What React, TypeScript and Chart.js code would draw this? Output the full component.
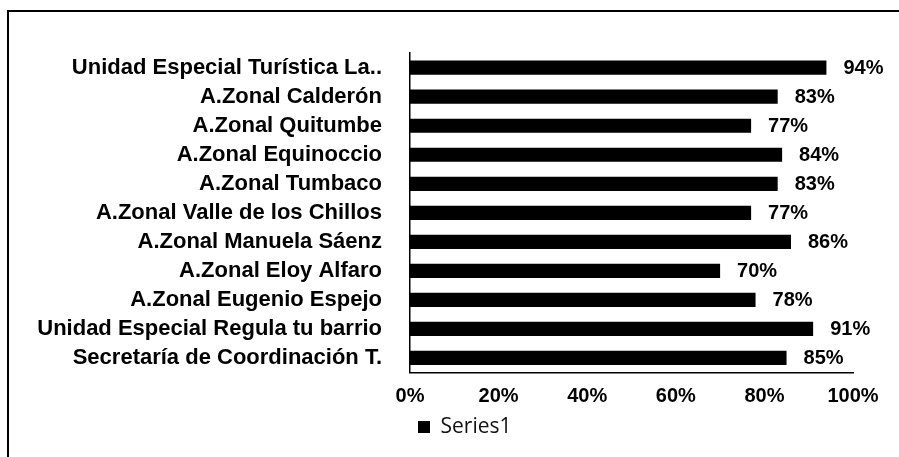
import React, { useEffect, useRef } from "react";
import { Chart, registerables } from "chart.js";

Chart.register(...registerables);

const categories = [
  "Unidad Especial Turística La..",
  "A.Zonal Calderón",
  "A.Zonal Quitumbe",
  "A.Zonal Equinoccio",
  "A.Zonal Tumbaco",
  "A.Zonal Valle de los Chillos",
  "A.Zonal Manuela Sáenz",
  "A.Zonal Eloy Alfaro",
  "A.Zonal Eugenio Espejo",
  "Unidad Especial Regula tu barrio",
  "Secretaría de Coordinación T.",
];
const series1 = [94, 83, 77, 84, 83, 77, 86, 70, 78, 91, 85];
const xTicks = [0, 20, 40, 60, 80, 100];
const seriesName = "Series1";

const FONT = "'Liberation Sans', Arial, Helvetica, sans-serif";

const valueLabels = {
  id: "valueLabels",
  afterDatasetsDraw(chart: any) {
    const ctx = chart.ctx;
    const meta = chart.getDatasetMeta(0);
    const data = chart.data.datasets[0].data;
    ctx.save();
    ctx.font = `bold 20px ${FONT}`;
    ctx.fillStyle = "#000";
    ctx.textAlign = "left";
    ctx.textBaseline = "middle";
    meta.data.forEach((el: any, i: number) => {
      ctx.fillText(`${data[i]}%`, el.x + 17, el.y + 1);
    });
    ctx.restore();
  },
};

// place the legend item just under the start of the value axis
const legendShift = {
  id: "legendShift",
  afterLayout(chart: any) {
    const lg = chart.legend;
    if (lg) {
      lg.left = chart.chartArea.left - 2;
    }
  },
};

export default function App() {
  const canvasRef = useRef<HTMLCanvasElement | null>(null);

  useEffect(() => {
    if (!canvasRef.current) return;
    const legendPad = 10;
    const chart = new Chart(canvasRef.current, {
      type: "bar",
      data: {
        labels: categories,
        datasets: [
          {
            label: seriesName,
            data: series1,
            backgroundColor: "#000",
            borderWidth: 0,
            barPercentage: 0.49,
            categoryPercentage: 1,
          },
        ],
      },
      options: {
        indexAxis: "y",
        responsive: false,
        animation: false,
        layout: { padding: { left: 0, right: 46, top: 21.6, bottom: 9.5 } },
        scales: {
          x: {
            min: xTicks[0],
            max: xTicks[xTicks.length - 1],
            afterFit: (scale: any) => {
              scale.height = 44.1 - legendPad;
            },
            ticks: {
              stepSize: xTicks[1] - xTicks[0],
              callback: (v: any) => `${v}%`,
              color: "#000",
              font: { family: FONT, size: 20, weight: "bold" },
              padding: 12,
              maxRotation: 0,
            },
            grid: { display: false, drawTicks: false },
            border: { display: true, color: "#000", width: 1.5 },
          },
          y: {
            afterFit: (scale: any) => {
              scale.width = 401;
            },
            ticks: {
              color: "#000",
              font: { family: FONT, size: 22, weight: "bold" },
              padding: 28,
              autoSkip: false,
            },
            grid: { display: false, drawTicks: false },
            border: { display: true, color: "#000", width: 1.5 },
          },
        },
        plugins: {
          legend: {
            display: true,
            position: "bottom",
            align: "start",
            labels: {
              boxWidth: 12,
              boxHeight: 12,
              padding: legendPad,
              color: "#111",
              font: { family: "'Open Sans', sans-serif", size: 21 },
            },
          },
          tooltip: { enabled: false },
        },
      },
      plugins: [valueLabels, legendShift],
    } as any);
    return () => chart.destroy();
  }, []);

  return (
    <div
      style={{
        position: "absolute",
        left: 0,
        top: 0,
        width: 899,
        height: 457,
        overflow: "hidden",
        background: "#fff",
      }}
    >
      <div
        style={{
          position: "absolute",
          left: 7,
          top: 10,
          width: 940,
          height: 500,
          boxSizing: "border-box",
          border: "2px solid #000",
          background: "#fff",
        }}
      >
        <canvas ref={canvasRef} width={890} height={445} style={{ display: "block" }} />
      </div>
    </div>
  );
}
